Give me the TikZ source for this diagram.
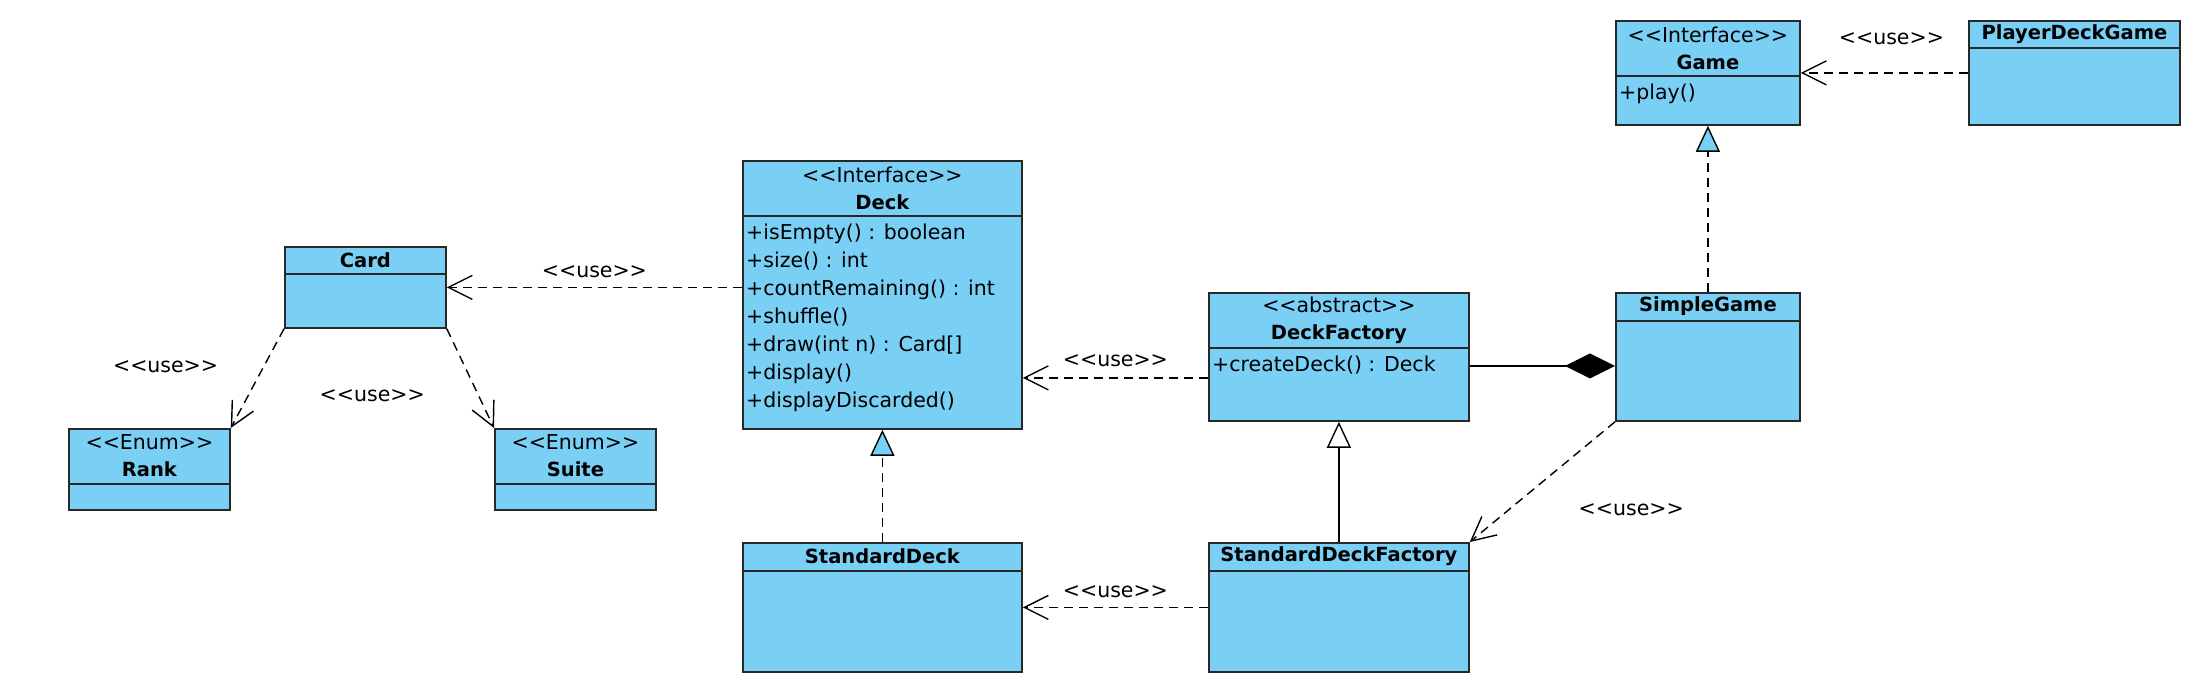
\documentclass[tikz,border=0pt]{standalone}
\usepackage{fontspec}
\setmainfont{DejaVu Sans}
\usetikzlibrary{arrows.meta}
\usetikzlibrary{calc}
\definecolor{umlblue}{RGB}{122,207,245}
\definecolor{umledge}{RGB}{40,40,40}
\newcommand{\stereo}[1]{<{}<#1>{}>}
\newcommand{\cname}[1]{{\fontsize{19.5}{27}\selectfont\bfseries #1}}

\begin{document}
\begin{tikzpicture}[x=1pt,y=-1pt,
                cls/.style={draw=umledge,fill=umlblue,line width=1.8pt,inner sep=0pt,anchor=north west},
                head/.style={font=\fontsize{20.5}{27}\selectfont,align=center,inner sep=0pt},
                ops/.style={font=\fontsize{20.5}{28}\selectfont,align=left,anchor=north west,inner xsep=4pt,inner ysep=8pt},
                split/.style={draw=umledge,line width=1.8pt},
                lbl/.style={font=\fontsize{20.5}{28}\selectfont,inner sep=0pt},
                uses/.style={dash pattern=on 9pt off 6pt,line width=1.4pt,-{Straight Barb[length=24pt,width=24pt]}},
                real/.style={dash pattern=on 9pt off 6pt,line width=1.4pt,-{Triangle[length=26pt,width=24pt,fill=umlblue]}},
                gen/.style={line width=1.4pt,-{Triangle[length=26pt,width=24pt,fill=white]}},
                comp/.style={line width=1.4pt,-{Diamond[length=50pt,width=25pt]}}]
             \useasboundingbox (0,0) rectangle (2202,692);
             % classes
             \node[cls,minimum width=161pt,minimum height=81pt] (card) at (284,246) {};
             \node[head] at ([yshift=-14pt]card.north) {\cname{Card}};
             \draw[split] ([yshift=-28pt]card.north west) -- ([yshift=-28pt]card.north east);
             \node[cls,minimum width=161pt,minimum height=81pt] (rank) at (68,428) {};
             \node[head] at ([yshift=-28pt]rank.north) {\stereo{Enum}\\\cname{Rank}};
             \draw[split] ([yshift=-56pt]rank.north west) -- ([yshift=-56pt]rank.north east);
             \node[cls,minimum width=161pt,minimum height=81pt] (suite) at (494,428) {};
             \node[head] at ([yshift=-28pt]suite.north) {\stereo{Enum}\\\cname{Suite}};
             \draw[split] ([yshift=-56pt]suite.north west) -- ([yshift=-56pt]suite.north east);
             \node[cls,minimum width=279pt,minimum height=268pt] (deck) at (742,160) {};
             \node[head] at ([yshift=-28pt]deck.north) {\stereo{Interface}\\\cname{Deck}};
             \draw[split] ([yshift=-56pt]deck.north west) -- ([yshift=-56pt]deck.north east);
             \node[ops] at ([yshift=-56pt]deck.north west) {+isEmpty() : boolean\\+size() : int\\+countRemaining() : int\\+shuffle()\\+draw(int n) : Card[]\\+display()\\+displayDiscarded()};
             \node[cls,minimum width=260pt,minimum height=128pt] (df) at (1208,292) {};
             \node[head] at ([yshift=-28pt]df.north) {\stereo{abstract}\\\cname{DeckFactory}};
             \draw[split] ([yshift=-56pt]df.north west) -- ([yshift=-56pt]df.north east);
             \node[ops] at ([yshift=-56pt]df.north west) {+createDeck() : Deck};
             \node[cls,minimum width=279pt,minimum height=129pt] (sd) at (742,542) {};
             \node[head] at ([yshift=-14pt]sd.north) {\cname{StandardDeck}};
             \draw[split] ([yshift=-29pt]sd.north west) -- ([yshift=-29pt]sd.north east);
             \node[cls,minimum width=260pt,minimum height=129pt] (sdf) at (1208,542) {};
             \node[head] at ([yshift=-14pt]sdf.north) {\cname{StandardDeckFactory}};
             \draw[split] ([yshift=-29pt]sdf.north west) -- ([yshift=-29pt]sdf.north east);
             \node[cls,minimum width=184pt,minimum height=104pt] (game) at (1615,20) {};
             \node[head] at ([yshift=-28pt]game.north) {\stereo{Interface}\\\cname{Game}};
             \draw[split] ([yshift=-56pt]game.north west) -- ([yshift=-56pt]game.north east);
             \node[ops] at ([yshift=-56pt]game.north west) {+play()};
             \node[cls,minimum width=211pt,minimum height=104pt] (pdg) at (1968,20) {};
             \node[head] at ([yshift=-14pt]pdg.north) {\cname{PlayerDeckGame}};
             \draw[split] ([yshift=-28pt]pdg.north west) -- ([yshift=-28pt]pdg.north east);
             \node[cls,minimum width=184pt,minimum height=128pt] (sg) at (1615,292) {};
             \node[head] at ([yshift=-14pt]sg.north) {\cname{SimpleGame}};
             \draw[split] ([yshift=-29pt]sg.north west) -- ([yshift=-29pt]sg.north east);
             % relations
             \draw[uses] (deck.west |- card.east) -- node[lbl,above=9pt] {\stereo{use}} (card.east);
             \draw[uses] (card.south west) -- node[lbl,pos=0.38,left=45pt] {\stereo{use}} (rank.north east);
             \draw[uses] (card.south east) -- node[lbl,pos=0.67,left=53pt] {\stereo{use}} (suite.north west);
             \draw[uses] ([yshift=-21pt]df.west) -- node[lbl,above=10pt] {\stereo{use}} ([yshift=-21pt]df.west -| deck.east);
             \draw[uses] (sdf.west) -- node[lbl,above=9pt] {\stereo{use}} (sd.east);
             \draw[uses] (pdg.west) -- node[lbl,above=27pt,xshift=7pt] {\stereo{use}} (game.east);
             \draw[uses] (sg.south west) -- node[lbl,pos=0.73,right=69pt] {\stereo{use}} (sdf.north east);
             \draw[real] (sd.north) -- (deck.south);
             \draw[real] (sg.north) -- (game.south);
             \draw[gen] (sdf.north) -- (df.south);
             \draw[comp] ([yshift=-9pt]df.east) -- ([yshift=-9pt]df.east -| sg.west);
\end{tikzpicture}
\end{document}
